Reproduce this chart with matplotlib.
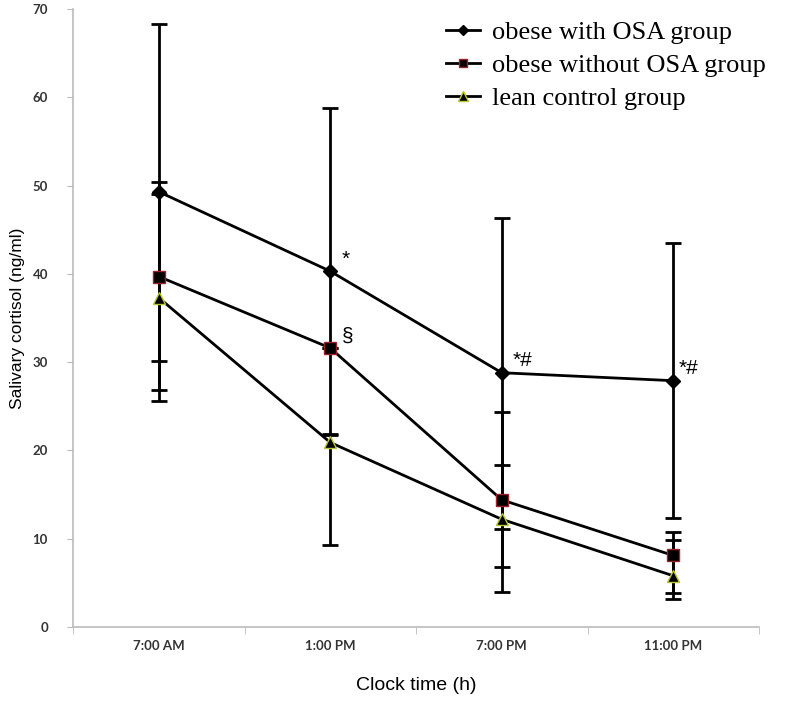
import matplotlib
matplotlib.use("Agg")
import matplotlib.pyplot as plt
import numpy as np

categories = ["7:00 AM", "1:00 PM", "7:00 PM", "11:00 PM"]
series_names = ["obese with OSA group", "obese without OSA group", "lean control group"]

osa_mean = [49.3, 40.3, 28.8, 27.9]
osa_low = [30.1, 21.8, 11.1, 12.3]
osa_high = [68.3, 58.8, 46.3, 43.5]

noosa_mean = [39.7, 31.6, 14.4, 8.1]
noosa_low = [26.8, 31.6, 4.0, 3.9]
noosa_high = [50.4, 31.6, 24.3, 10.8]

lean_mean = [37.3, 20.9, 12.2, 5.8]
lean_low = [25.6, 9.3, 6.8, 3.2]
lean_high = [49.0, 21.9, 18.3, 9.9]

annotations = ["", "*", "*#", "*#"]
annot2 = ["", "\u00a7", "", ""]

W, H = 785, 702
fig = plt.figure(figsize=(W/100, H/100), dpi=100)
ax = fig.add_axes([73/W, 1-627/H, (759-73)/W, (627-9)/H])

x = np.arange(len(categories))

styles = [
    dict(marker="D", markersize=7, markerfacecolor="black", markeredgecolor="black"),
    dict(marker="s", markersize=8, markerfacecolor="black", markeredgecolor="#a0202a"),
    dict(marker="^", markersize=9, markerfacecolor="black", markeredgecolor="#b8c830"),
]
data = [(osa_mean, osa_low, osa_high), (noosa_mean, noosa_low, noosa_high), (lean_mean, lean_low, lean_high)]

handles = []
for (m, lo, hi), st, name in zip(data, styles, series_names):
    m = np.array(m); lo = np.array(lo); hi = np.array(hi)
    yerr = np.vstack([m - lo, hi - m])
    ax.errorbar(x, m, yerr=yerr, fmt="none", ecolor="black", elinewidth=2, capsize=6, capthick=2, zorder=2)
    h, = ax.plot(x, m, color="black", lw=2, zorder=3, label=name, **st)
    handles.append(h)

for xi, (a, m) in enumerate(zip(annotations, osa_mean)):
    if a:
        dx = 0.065 if xi < 3 else 0.03
        ax.text(xi + dx, m + 0.3, a, fontsize=15, family="Liberation Sans", ha="left", va="bottom")
for xi, (a, m) in enumerate(zip(annot2, noosa_mean)):
    if a:
        ax.text(xi + 0.065, m + 0.3, a, fontsize=15, family="Liberation Sans", ha="left", va="bottom")

ax.set_xlim(-0.5, 3.5)
ax.set_ylim(0, 70)
ax.set_yticks(np.arange(0, 71, 10))
ax.set_xticks(x)
ax.set_xticklabels(categories)
ax.set_xticks(np.arange(-0.5, 3.6, 1), minor=True)
ax.tick_params(axis="x", which="major", length=0, pad=9, labelsize=9.5, labelcolor="#333333")
ax.tick_params(axis="x", which="minor", length=5, color="#bbbbbb", direction="out")
ax.tick_params(axis="y", length=4, pad=14, color="#bbbbbb", labelsize=9.5, labelcolor="#333333")
for lab in ax.get_xticklabels() + ax.get_yticklabels():
    lab.set_family("Lato")
    lab.set_fontweight("bold")

for s in ["top", "right"]:
    ax.spines[s].set_visible(False)
for s in ["left", "bottom"]:
    ax.spines[s].set_color("#bbbbbb")
    ax.spines[s].set_linewidth(1.2)

ax.set_xlabel("Clock time (h)", fontsize=14, family="Liberation Sans", va="center")
ax.set_ylabel("Salivary cortisol (ng/ml)", fontsize=12.5, family="Liberation Sans", va="center")
ax.xaxis.set_label_coords(0.5, (627 - 686) / 618)
ax.yaxis.set_label_coords((18 - 73) / 686, 0.5)

leg = fig.legend(handles=handles, loc="upper left", bbox_to_anchor=(446/W, 1-21/H),
                 bbox_transform=fig.transFigure, frameon=False,
                 prop={"family": "Liberation Serif", "size": 19}, handlelength=1.3,
                 labelspacing=0.36, handletextpad=0.45, borderpad=0, borderaxespad=0,
                 markerscale=0.8)

fig.savefig("out.png", dpi=100)
